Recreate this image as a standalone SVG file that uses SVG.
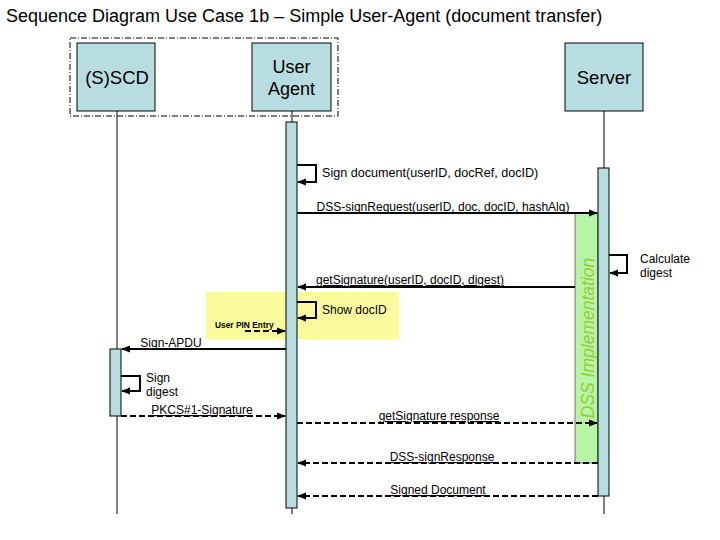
<svg xmlns="http://www.w3.org/2000/svg" width="720" height="540" viewBox="0 0 720 540">
<style>
text{font-family:"Liberation Sans",Arial,sans-serif;fill:#000}
.box{fill:#b8dde1;stroke:#000;stroke-width:1}
.act{fill:#b8dde1;stroke:#000;stroke-width:1}
.life{stroke:#000;stroke-width:1;fill:none}
.msg{stroke:#000;stroke-width:2;fill:none}
.dash{stroke:#000;stroke-width:2;fill:none;stroke-dasharray:6,3}
.lbl{font-size:12px}
.u{text-decoration:underline}
</style>
<defs>
<marker id="ah" viewBox="0 0 10 10" refX="9" refY="5" markerWidth="9" markerHeight="9" markerUnits="userSpaceOnUse" orient="auto">
<path d="M0,1 L10,5 L0,9 z" fill="#000"/>
</marker>
</defs>
<rect width="720" height="540" fill="#fff"/>
<text x="6" y="22" font-size="18">Sequence Diagram Use Case 1b – Simple User-Agent (document transfer)</text>
<rect x="70" y="38" width="268" height="78" fill="none" stroke="#000" stroke-width="1" stroke-dasharray="6,2,1,2"/>
<g id="lifelines">
<line class="life" x1="117" y1="111" x2="117" y2="514"/>
<line class="life" x1="292" y1="111" x2="292" y2="514"/>
<line class="life" x1="604" y1="111" x2="604" y2="514"/>
</g>
<rect id="user-interaction" x="206" y="292" width="193" height="47" fill="#fbfb9d"/>
<g id="sscd">
<rect class="box" x="77" y="43" width="78" height="68"/>
<text x="117" y="84" font-size="18.5" text-anchor="middle">(S)SCD</text>
</g>
<g id="user-agent">
<rect class="box" x="252" y="43" width="79" height="68"/>
<text x="291.5" y="73" font-size="18" text-anchor="middle">User</text>
<text x="291.5" y="95" font-size="18" text-anchor="middle">Agent</text>
</g>
<g id="server">
<rect class="box" x="565" y="43" width="78" height="68"/>
<text x="604" y="84" font-size="18.5" text-anchor="middle">Server</text>
</g>
<g id="dss-implementation">
<rect x="575" y="213" width="23" height="250" fill="#b5f5a5" stroke="#000" stroke-width="0.5"/>
<text transform="translate(594,338) rotate(-90)" font-size="17.5" font-style="italic" text-anchor="middle" style="fill:#99cc33">DSS Implementation</text>
</g>
<g id="activations">
<rect class="act" x="286" y="122" width="11" height="386"/>
<rect class="act" x="598" y="168" width="11" height="328"/>
<rect class="act" x="110" y="349" width="11" height="67"/>
</g>
<g id="connectors">
<path class="msg" d="M297,165 H316 V182 H298" marker-end="url(#ah)"/>
<line class="msg" x1="297" y1="213" x2="597" y2="213" marker-end="url(#ah)"/>
<path class="msg" d="M609,255 H627 V273 H610" marker-end="url(#ah)"/>
<line class="msg" x1="575" y1="287" x2="298" y2="287" marker-end="url(#ah)"/>
<path class="msg" d="M297,302 H316 V318 H298" marker-end="url(#ah)"/>
<line class="dash" x1="245" y1="331" x2="285" y2="331" marker-end="url(#ah)"/>
<line class="msg" x1="286" y1="349" x2="122" y2="349" marker-end="url(#ah)"/>
<path class="msg" d="M121,376 H140 V391 H122" marker-end="url(#ah)"/>
<line class="dash" x1="121" y1="416" x2="285" y2="416" marker-end="url(#ah)"/>
<line class="dash" x1="297" y1="423" x2="597" y2="423" marker-end="url(#ah)"/>
<line class="dash" x1="598" y1="463" x2="298" y2="463" marker-end="url(#ah)"/>
<line class="dash" x1="598" y1="496" x2="298" y2="496" marker-end="url(#ah)"/>
</g>
<g id="labels">
<text class="lbl" x="322" y="177" style="font-size:12.6px">Sign document(userID, docRef, docID)</text>
<text class="lbl u" x="443" y="211" text-anchor="middle">DSS-signRequest(userID, doc, docID, hashAlg)</text>
<text class="lbl" x="640" y="263">Calculate</text>
<text class="lbl" x="640" y="277">digest</text>
<text class="lbl u" x="410" y="284" text-anchor="middle">getSignature(userID, docID, digest)</text>
<text class="lbl" x="322" y="314">Show docID</text>
<text x="215" y="328" font-size="8.4" font-weight="bold">User PIN Entry</text>
<text class="lbl u" x="171" y="347" text-anchor="middle">Sign-APDU</text>
<text class="lbl" x="146" y="382">Sign</text>
<text class="lbl" x="146" y="396">digest</text>
<text class="lbl u" x="202" y="414" text-anchor="middle">PKCS#1-Signature</text>
<text class="lbl u" x="439" y="420" text-anchor="middle">getSignature response</text>
<text class="lbl u" x="442" y="461" text-anchor="middle">DSS-signResponse</text>
<text class="lbl u" x="438" y="494" text-anchor="middle">Signed Document</text>
</g>
</svg>
